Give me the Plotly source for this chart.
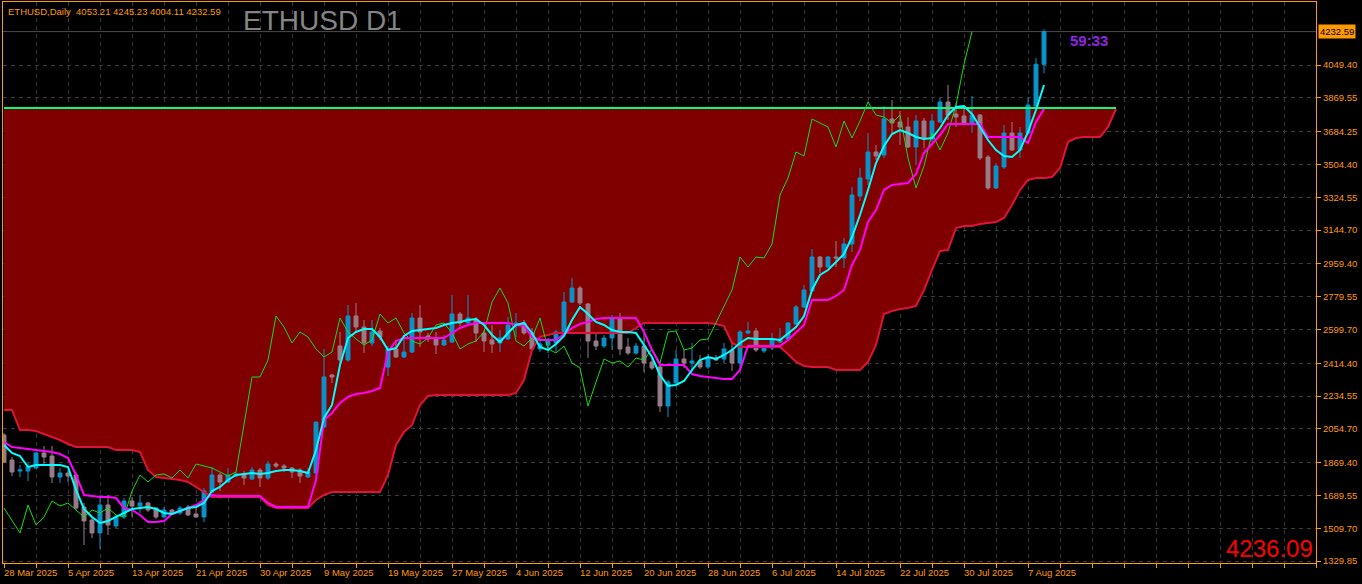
import plotly.graph_objects as go

# ---------------- data ----------------
date_labels = ["28 Mar 2025", "5 Apr 2025", "13 Apr 2025", "21 Apr 2025", "30 Apr 2025",
               "9 May 2025", "19 May 2025", "27 May 2025", "4 Jun 2025", "12 Jun 2025",
               "20 Jun 2025", "28 Jun 2025", "6 Jul 2025", "14 Jul 2025", "22 Jul 2025",
               "30 Jul 2025", "7 Aug 2025"]
date_label_bars = [0, 8, 16, 24, 32, 40, 48, 56, 64, 72, 80, 88, 96, 104, 112, 120, 128]

price_ticks = [4049.40, 3869.55, 3684.25, 3504.40, 3324.55, 3144.70, 2959.40, 2779.55,
               2599.70, 2414.40, 2234.55, 2054.70, 1869.40, 1689.55, 1509.70, 1329.85]

opens = [2020.7, 1883.6, 1823.3, 1823.3, 1839.8, 1922.0, 1905.6, 1790.4, 1812.4, 1801.4,
         1626.0, 1554.7, 1483.5, 1636.9, 1521.8, 1571.2, 1658.9, 1631.4, 1647.9, 1620.5,
         1571.2, 1609.5, 1593.1, 1626.0, 1587.6, 1571.2, 1708.2, 1801.4, 1763.0, 1795.9,
         1806.9, 1779.5, 1828.8, 1785.0, 1861.7, 1850.7, 1839.8, 1828.8, 1790.4, 1812.4,
         2064.5, 2349.7, 2508.7, 2432.0, 2673.2, 2612.9, 2525.2, 2591.0, 2393.6, 2492.3,
         2448.4, 2475.8, 2662.2, 2563.5, 2552.6, 2514.2, 2530.6, 2684.1, 2634.8, 2656.7,
         2580.0, 2541.6, 2525.2, 2547.1, 2623.8, 2634.8, 2580.0, 2492.3, 2514.2, 2525.2,
         2585.5, 2749.9, 2826.7, 2739.0, 2536.1, 2508.7, 2552.6, 2662.2, 2503.2, 2470.3,
         2508.7, 2421.0, 2393.6, 2179.7, 2305.9, 2437.4, 2415.5, 2426.5, 2393.6, 2442.9,
         2437.4, 2486.8, 2415.5, 2580.0, 2591.0, 2481.3, 2497.7, 2530.6, 2547.1, 2629.3,
         2722.5, 2810.3, 2996.7, 2941.9, 2996.7, 2991.2, 3068.0, 3331.1, 3424.3, 3572.4,
         3555.9, 3753.3, 3736.9, 3709.5, 3599.8, 3742.4, 3643.7, 3736.9, 3846.5, 3780.7,
         3769.8, 3731.4, 3775.3, 3545.0, 3375.0, 3490.1, 3676.6, 3583.3, 3676.6, 3824.6,
         4053.21]
highs = [2031.6, 1900.1, 1856.2, 1867.2, 1927.5, 1960.4, 1960.4, 1839.8, 1828.8, 1817.8,
         1647.9, 1571.2, 1675.3, 1691.8, 1582.1, 1675.3, 1680.8, 1691.8, 1653.4, 1626.0,
         1626.0, 1615.0, 1631.4, 1636.9, 1631.4, 1730.1, 1845.3, 1812.4, 1839.8, 1817.8,
         1823.3, 1845.3, 1839.8, 1878.1, 1872.7, 1861.7, 1845.3, 1839.8, 1839.8, 2097.0,
         2492.3, 2355.2, 2585.5, 2733.5, 2744.5, 2651.3, 2651.3, 2607.4, 2508.7, 2541.6,
         2569.0, 2689.6, 2733.5, 2580.0, 2585.5, 2569.0, 2788.3, 2695.1, 2788.3, 2667.7,
         2596.4, 2623.8, 2596.4, 2667.7, 2689.6, 2651.3, 2607.4, 2541.6, 2552.6, 2596.4,
         2804.8, 2881.4, 2837.7, 2744.5, 2585.5, 2569.0, 2678.7, 2689.6, 2552.6, 2525.2,
         2580.0, 2442.9, 2399.1, 2322.3, 2486.8, 2486.8, 2525.2, 2459.4, 2464.8, 2459.4,
         2525.2, 2525.2, 2596.4, 2640.3, 2607.4, 2514.2, 2580.0, 2607.4, 2640.3, 2733.5,
         2843.0, 3040.6, 3002.2, 3002.2, 3084.4, 3100.8, 3380.5, 3484.7, 3676.6, 3610.8,
         3824.6, 3857.5, 3797.2, 3764.3, 3775.3, 3758.8, 3780.7, 3868.5, 3939.8, 3841.1,
         3813.6, 3879.4, 3780.7, 3555.9, 3512.1, 3720.4, 3736.9, 3709.5, 3868.5, 4087.8,
         4245.23]
lows = [1867.2, 1795.9, 1790.4, 1768.5, 1834.3, 1856.2, 1757.5, 1757.5, 1763.0, 1609.5,
        1417.6, 1456.0, 1395.7, 1472.5, 1510.9, 1560.2, 1571.2, 1593.1, 1598.6, 1560.2,
        1565.7, 1582.1, 1582.1, 1576.6, 1571.2, 1543.7, 1702.7, 1713.7, 1757.5, 1790.4,
        1746.6, 1774.0, 1735.6, 1774.0, 1839.8, 1817.8, 1785.0, 1757.5, 1785.0, 1790.4,
        2059.0, 2305.9, 2404.5, 2421.0, 2580.0, 2470.3, 2508.7, 2541.6, 2344.2, 2442.9,
        2442.9, 2470.3, 2503.2, 2530.6, 2464.8, 2508.7, 2525.2, 2618.4, 2629.3, 2530.6,
        2475.8, 2470.3, 2475.8, 2541.6, 2558.1, 2569.0, 2486.8, 2475.8, 2470.3, 2475.8,
        2580.0, 2744.5, 2733.5, 2442.9, 2486.8, 2497.7, 2486.8, 2459.4, 2459.4, 2459.4,
        2366.2, 2377.1, 2146.8, 2119.4, 2294.9, 2388.1, 2366.2, 2382.6, 2382.6, 2426.5,
        2415.5, 2371.6, 2371.6, 2574.5, 2475.8, 2470.3, 2486.8, 2525.2, 2541.6, 2623.8,
        2717.0, 2804.8, 2909.0, 2936.4, 2941.9, 2936.4, 3024.1, 3303.7, 3391.5, 3528.5,
        3539.5, 3676.6, 3610.8, 3594.3, 3501.1, 3594.3, 3627.2, 3731.4, 3747.8, 3709.5,
        3725.9, 3676.6, 3528.5, 3364.0, 3369.5, 3479.2, 3577.9, 3539.5, 3665.6, 3813.6,
        4004.11]
closes = [1872.7, 1817.8, 1828.8, 1845.3, 1922.0, 1900.1, 1790.4, 1812.4, 1795.9, 1620.5,
          1549.2, 1483.5, 1636.9, 1527.3, 1571.2, 1658.9, 1631.4, 1647.9, 1609.5, 1571.2,
          1609.5, 1593.1, 1620.5, 1582.1, 1571.2, 1713.7, 1801.4, 1763.0, 1801.4, 1806.9,
          1785.0, 1828.8, 1785.0, 1861.7, 1850.7, 1839.8, 1817.8, 1795.9, 1817.8, 2091.0,
          2338.8, 2338.8, 2432.0, 2673.2, 2612.9, 2525.2, 2585.5, 2558.1, 2492.3, 2448.4,
          2475.8, 2662.2, 2585.5, 2547.1, 2514.2, 2541.6, 2684.1, 2634.8, 2662.2, 2580.0,
          2536.1, 2519.7, 2552.6, 2623.8, 2634.8, 2580.0, 2492.3, 2519.7, 2536.1, 2585.5,
          2749.9, 2826.7, 2744.5, 2536.1, 2508.7, 2552.6, 2662.2, 2492.3, 2470.3, 2508.7,
          2415.5, 2388.1, 2179.7, 2311.3, 2437.4, 2415.5, 2426.5, 2393.6, 2442.9, 2432.0,
          2492.3, 2415.5, 2585.5, 2591.0, 2486.8, 2497.7, 2541.6, 2547.1, 2634.8, 2722.5,
          2815.8, 2996.7, 2941.9, 2996.7, 2991.2, 3068.0, 3336.6, 3429.8, 3572.4, 3550.5,
          3753.3, 3731.4, 3709.5, 3599.8, 3742.4, 3649.1, 3742.4, 3846.5, 3775.3, 3764.3,
          3731.4, 3775.3, 3539.5, 3375.0, 3495.6, 3676.6, 3583.3, 3676.6, 3830.1, 4053.2,
          4232.59]

tenkan = [1965.9, 1922.0, 1905.6, 1845.3, 1856.2, 1856.2, 1856.2, 1856.2, 1845.3, 1719.2,
          1615.0, 1571.2, 1538.3, 1549.2, 1571.2, 1593.1, 1615.0, 1620.5, 1626.0, 1615.0,
          1593.1, 1587.6, 1604.0, 1620.5, 1626.0, 1647.9, 1713.7, 1735.6, 1774.0, 1801.4,
          1806.9, 1812.4, 1806.9, 1812.4, 1823.3, 1828.8, 1828.8, 1823.3, 1812.4, 1938.4,
          2113.9, 2185.2, 2404.5, 2552.6, 2585.5, 2601.9, 2601.9, 2558.1, 2486.8, 2497.7,
          2563.5, 2591.0, 2596.4, 2601.9, 2607.4, 2623.8, 2634.8, 2640.3, 2651.3, 2656.7,
          2623.8, 2569.0, 2530.6, 2580.0, 2623.8, 2634.8, 2580.0, 2503.2, 2486.8, 2519.7,
          2563.5, 2651.3, 2722.5, 2684.1, 2640.3, 2623.8, 2596.4, 2585.5, 2585.5, 2580.0,
          2514.2, 2448.4, 2349.7, 2289.4, 2294.9, 2316.8, 2377.1, 2432.0, 2448.4, 2437.4,
          2459.4, 2486.8, 2525.2, 2552.6, 2547.1, 2547.1, 2547.1, 2541.6, 2580.0, 2612.9,
          2673.2, 2815.8, 2898.0, 2925.4, 2969.3, 3013.1, 3106.3, 3227.0, 3364.0, 3512.1,
          3605.3, 3671.1, 3693.0, 3676.6, 3654.6, 3643.7, 3649.1, 3704.0, 3775.3, 3819.1,
          3824.6, 3780.7, 3709.5, 3638.2, 3583.3, 3550.5, 3545.0, 3583.3, 3682.0, 3802.7,
          3939.8]
kijun = [1982.3, 1954.9, 1949.4, 1943.9, 1938.4, 1933.0, 1927.5, 1916.5, 1894.6, 1801.4,
         1691.8, 1686.3, 1680.8, 1680.8, 1675.3, 1620.5, 1609.5, 1582.1, 1543.7, 1543.7,
         1549.2, 1587.6, 1604.0, 1620.5, 1636.9, 1664.3, 1691.8, 1686.3, 1686.3, 1686.3,
         1686.3, 1686.3, 1686.3, 1647.9, 1626.0, 1626.0, 1626.0, 1626.0, 1626.0, 1774.0,
         2102.9, 2141.3, 2196.2, 2229.1, 2245.5, 2251.0, 2262.0, 2278.4, 2475.8, 2536.1,
         2552.6, 2552.6, 2552.6, 2552.6, 2552.6, 2552.6, 2580.0, 2607.4, 2623.8, 2634.8,
         2634.8, 2634.8, 2634.8, 2634.8, 2623.8, 2618.4, 2558.1, 2541.6, 2541.6, 2541.6,
         2574.5, 2607.4, 2629.3, 2640.3, 2656.7, 2662.2, 2662.2, 2662.2, 2662.2, 2662.2,
         2585.5, 2486.8, 2404.5, 2404.5, 2404.5, 2404.5, 2355.2, 2344.2, 2338.8, 2333.3,
         2327.8, 2327.8, 2377.1, 2508.7, 2508.7, 2508.7, 2508.7, 2508.7, 2541.6, 2580.0,
         2623.8, 2760.9, 2760.9, 2760.9, 2782.9, 2815.8, 2952.8, 3035.1, 3188.6, 3254.4,
         3364.0, 3391.5, 3396.9, 3402.4, 3451.8, 3566.9, 3616.2, 3665.6, 3725.9, 3725.9,
         3725.9, 3725.9, 3725.9, 3654.6, 3654.6, 3654.6, 3654.6, 3654.6, 3621.7, 3736.9,
         3808.2]
# Senkou span A (shifted forward, 140 values incl. 9 future bars)
senkou_a = [2157.8, 2157.8, 2048.1, 2048.1, 2042.6, 2026.1, 2009.7, 1993.3, 1971.3, 1954.9,
            1954.9, 1954.9, 1954.9, 1954.9, 1938.4, 1938.4, 1938.4, 1927.5, 1828.8, 1790.4,
            1785.0, 1779.5, 1774.0, 1763.0, 1735.6, 1708.2, 1680.8, 1680.8, 1680.8, 1680.8,
            1680.8, 1680.8, 1680.8, 1636.9, 1620.5, 1620.5, 1620.5, 1620.5, 1620.5, 1664.3,
            1691.8, 1708.2, 1708.2, 1708.2, 1708.2, 1708.2, 1708.2, 1708.2, 1801.4, 1965.9,
            2037.1, 2075.5, 2185.2, 2234.6, 2240.0, 2240.0, 2240.0, 2240.0, 2240.0, 2240.0,
            2240.0, 2240.0, 2240.0, 2240.0, 2251.0, 2322.3, 2486.8, 2558.1, 2569.0, 2580.0,
            2580.0, 2580.0, 2580.0, 2580.0, 2580.0, 2580.0, 2580.0, 2580.0, 2580.0, 2607.4,
            2634.8, 2634.8, 2634.8, 2634.8, 2634.8, 2634.8, 2634.8, 2634.8, 2634.8, 2629.3,
            2618.4, 2525.2, 2503.2, 2503.2, 2503.2, 2503.2, 2503.2, 2503.2, 2464.8, 2421.0,
            2399.1, 2393.6, 2393.6, 2393.6, 2377.1, 2377.1, 2377.1, 2377.1, 2421.0, 2514.2,
            2684.1, 2700.6, 2711.6, 2717.0, 2728.0, 2815.8, 2925.4, 3029.6, 3035.1, 3155.7,
            3166.6, 3166.6, 3177.6, 3183.1, 3188.6, 3210.5, 3281.8, 3364.0, 3418.9, 3429.8,
            3429.8, 3435.3, 3484.7, 3627.2, 3649.1, 3654.6, 3654.6, 3654.6, 3709.5, 3808.2]
# Senkou span B is flat over the whole visible range: start / end points
senkou_b_x = [0, 139]
senkou_b = [3813.6, 3813.6]
chikou_shift = 9

bid_price = 4232.59
header_text = "ETHUSD,Daily\u00a0\u00a04053.21 4245.23 4004.11 4232.59"
timer_text = "59:33"
big_price_text = "4236.09"

# ---------------- styling ----------------
ORANGE = "#FF9A00"
BULL = "#0A93C9"
BEAR = "#977C8A"
GRID = "#3A3A3A"
FONT = "Liberation Sans, Arial, sans-serif"
SMALL = 9.5

W, H = 1362, 584
PL, PT, PR, PB = 3, 2, 1316, 563          # plot area in pixels
PW, PH = PR - PL, PB - PT


def px(x):
    return (x - PL) / PW


def py(y):
    return (PB - y) / PH


bars = list(range(len(opens)))
cloud_x = list(range(len(senkou_a)))
chikou_x = [b - chikou_shift for b in bars[chikou_shift:]]
chikou_y = closes[chikou_shift:]

# cloud polygon (data coordinates): span A forward, span B back
cloud_pts = [(x, y) for x, y in zip(cloud_x, senkou_a)]
cloud_pts += [(x, y) for x, y in zip(senkou_b_x[::-1], senkou_b[::-1])]
cloud_path = "M " + " L ".join(f"{x},{y}" for x, y in cloud_pts) + " Z"

fig = go.Figure()

# candles
fig.add_trace(go.Candlestick(
    x=bars, open=opens, high=highs, low=lows, close=closes,
    increasing=dict(line=dict(color=BULL, width=1), fillcolor=BULL),
    decreasing=dict(line=dict(color=BEAR, width=1), fillcolor=BEAR),
    whiskerwidth=0, hoverinfo="skip"))

# ichimoku lines
fig.add_trace(go.Scatter(x=cloud_x, y=senkou_a, mode="lines",
                         line=dict(color="#DC143C", width=2), hoverinfo="skip"))
fig.add_trace(go.Scatter(x=senkou_b_x, y=senkou_b, mode="lines",
                         line=dict(color="#00FF7F", width=2), hoverinfo="skip"))
fig.add_trace(go.Scatter(x=chikou_x, y=chikou_y, mode="lines",
                         line=dict(color="#10E010", width=1), hoverinfo="skip"))
fig.add_trace(go.Scatter(x=bars, y=kijun, mode="lines",
                         line=dict(color="#FF00FF", width=2), hoverinfo="skip"))
fig.add_trace(go.Scatter(x=bars, y=tenkan, mode="lines",
                         line=dict(color="#00FFFF", width=2), hoverinfo="skip"))

# axis ranges from pixel geometry (8 px per bar, bar 0 at x=4; 5.483 price per px)
x0 = (PL - 4) / 8.0
x1 = (PR - 4) / 8.0
p_per_px = 5.483
ylo = 1329.85 - (PB - 561) * p_per_px
yhi = 1329.85 + (561 - PT) * p_per_px

annotations = []
for lab, b in zip(date_labels, date_label_bars):
    annotations.append(dict(x=b, y=0, xref="x", yref="paper", text=lab, showarrow=False,
                            xanchor="left", yanchor="top", xshift=-2, yshift=-2,
                            font=dict(family=FONT, size=SMALL, color=ORANGE)))
annotations += [
    dict(x=px(6), y=py(12), xref="paper", yref="paper", text=header_text, showarrow=False,
         xanchor="left", yanchor="middle", font=dict(family=FONT, size=SMALL, color=ORANGE)),
    dict(x=px(241), y=py(20), xref="paper", yref="paper", text="ETHUSD D1", showarrow=False,
         xanchor="left", yanchor="middle", font=dict(family=FONT, size=28, color="#858585")),
    dict(x=px(1089), y=py(41), xref="paper", yref="paper", text="<b>" + timer_text + "</b>",
         showarrow=False, xanchor="center", yanchor="middle",
         font=dict(family=FONT, size=15, color="#9024E0")),
    dict(x=px(1315), y=py(548), xref="paper", yref="paper", text=big_price_text,
         showarrow=False, xanchor="right", yanchor="middle",
         font=dict(family=FONT, size=24, color="#FF0000")),
    dict(x=1, y=bid_price, xref="paper", yref="y", text=f"{bid_price:.2f}", showarrow=False,
         xanchor="left", yanchor="middle", xshift=2, bgcolor=ORANGE, borderpad=1,
         font=dict(family=FONT, size=SMALL, color="#000000")),
]

fig.update_layout(
    width=W, height=H,
    margin=dict(l=PL, r=W - PR, t=PT, b=H - PB, pad=0, autoexpand=False),
    paper_bgcolor="#000000", plot_bgcolor="#000000",
    showlegend=False, hovermode=False,
    annotations=annotations,
    shapes=[
        dict(type="path", xref="x", yref="y", path=cloud_path, fillcolor="#800000",
             line=dict(width=0), layer="between"),
        dict(type="line", xref="paper", yref="y", x0=0, x1=1, y0=bid_price, y1=bid_price,
             line=dict(color="#4A4A4A", width=1), layer="between"),
    ],
    xaxis=dict(range=[x0, x1], rangeslider=dict(visible=False), tick0=0, dtick=4,
               showticklabels=False, ticks="outside", ticklen=4, tickcolor=ORANGE,
               showgrid=True, gridcolor=GRID, griddash="4px,4px", gridwidth=1,
               zeroline=False, showline=True, linecolor=ORANGE, linewidth=1, mirror=True),
    yaxis=dict(range=[ylo, yhi], side="right", tickvals=price_ticks,
               ticktext=[f"{v:.2f}" for v in price_ticks],
               tickfont=dict(family=FONT, size=SMALL, color=ORANGE),
               ticks="outside", ticklen=4, tickcolor=ORANGE,
               showgrid=True, gridcolor=GRID, griddash="4px,4px", gridwidth=1,
               zeroline=False, showline=True, linecolor=ORANGE, linewidth=1, mirror=True),
)

fig.write_html("out.html", config={"displayModeBar": False},
               post_script="document.body.style.margin='0';document.body.style.overflow='hidden';")
